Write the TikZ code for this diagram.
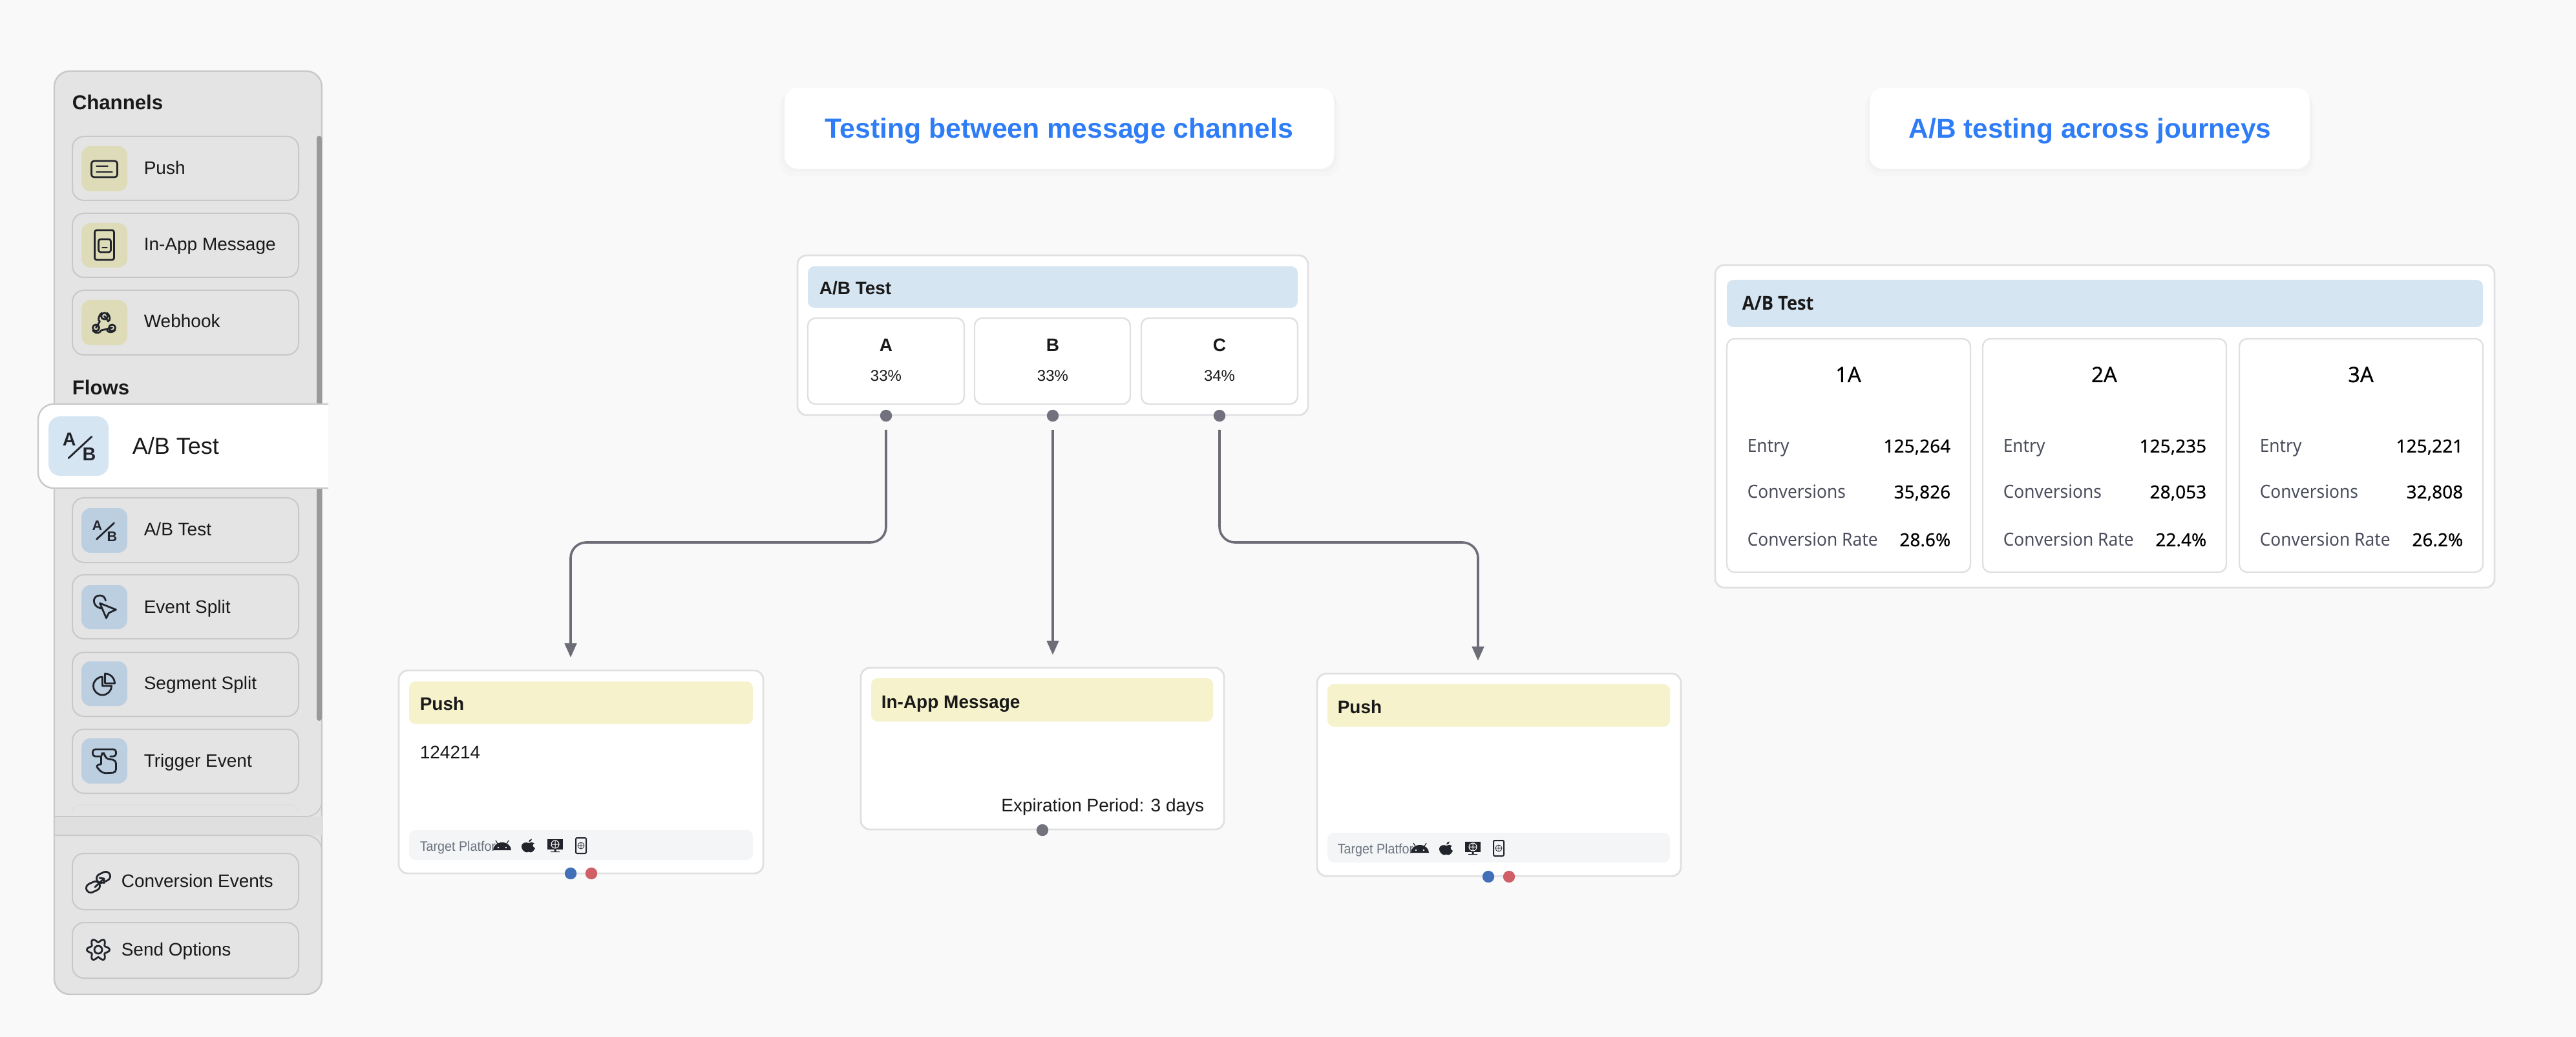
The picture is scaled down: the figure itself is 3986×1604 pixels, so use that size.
\documentclass[tikz,border=0pt]{standalone}
\usepackage{fontspec}
\setmainfont{Liberation Sans}
\newfontfamily\footfam[FakeStretch=.93]{Liberation Sans}
\newfontfamily\notolbl[FakeStretch=.94]{Noto Sans}
\newfontfamily\notoval[FakeBold=.25]{Noto Sans}
\newfontfamily\notomid[FakeBold=.4]{Noto Sans}
\newfontfamily\resulthead[FakeStretch=.92]{Open Sans}
\usetikzlibrary{arrows.meta,fit,shadows}
\newcommand{\sz}[1]{\fontsize{#1}{#1}\selectfont}
\definecolor{pagebg}{HTML}{F9F9FA}
\definecolor{panelgrey}{HTML}{E4E4E4}
\definecolor{panelline}{HTML}{C8C8C8}
\definecolor{chanicon}{HTML}{DEDCB8}
\definecolor{flowicon}{HTML}{BCCFE0}
\definecolor{abblue}{HTML}{D6E5F2}
\definecolor{msgyellow}{HTML}{F5F2CC}
\definecolor{footgrey}{HTML}{F3F5F6}
\definecolor{cardline}{HTML}{E0E0E3}
\definecolor{linkgrey}{HTML}{6D6D78}
\definecolor{portgrey}{HTML}{72727F}
\definecolor{portblue}{HTML}{4170B8}
\definecolor{portred}{HTML}{CF6068}
\definecolor{titleblue}{HTML}{2E7CF6}
\definecolor{inkdark}{HTML}{22242C}
\definecolor{rowgrey}{HTML}{4A4E5C}
\definecolor{footgreytext}{HTML}{6B7280}
\tikzset{
	boxbase/.style={inner sep=0pt, outer sep=0pt, rounded corners=#1},
	boxbase/.default=4pt,
	sidepanel/.style={boxbase=6pt, draw=panelline, fill=panelgrey, line width=.6pt},
	sidebtn/.style={boxbase=4.5pt, draw=panelline, fill=panelgrey, line width=.5pt},
	iconchan/.style={boxbase=3.5pt, fill=chanicon},
	iconflow/.style={boxbase=3.5pt, fill=flowicon},
	iconhi/.style={boxbase=4.5pt, fill=abblue},
	hibox/.style={boxbase=6pt, draw=panelline, fill=white, line width=.6pt},
	scrollbar/.style={boxbase=1pt, fill=black!40},
	titlecard/.style={boxbase=5pt, fill=white,
		drop shadow={shadow xshift=0pt, shadow yshift=-2.5pt, shadow scale=1.02, opacity=.025},
		drop shadow={shadow xshift=0pt, shadow yshift=-1pt, shadow scale=1.01, opacity=.03}},
	card/.style={boxbase=3.5pt, draw=cardline, fill=white, line width=.7pt},
	cell/.style={boxbase=3pt, draw=cardline, fill=white, line width=.6pt},
	abhead/.style={boxbase=2.5pt, fill=abblue},
	msghead/.style={boxbase=2.5pt, fill=msgyellow},
	foot/.style={boxbase=2.5pt, fill=footgrey},
	txt/.style={inner sep=0pt, anchor=base west, text=black!90, font=\sz{7pt}},
	txtc/.style={txt, anchor=base},
	txtr/.style={txt, anchor=base east},
	headtxt/.style={txt, font=\sz{7pt}\bfseries},
	footxt/.style={txt, text=footgreytext, font=\footfam\sz{5.3pt}},
	pct/.style={txtc, font=\sz{6pt}},
	rowtxt/.style={txt, text=rowgrey, font=\notolbl\sz{7pt}},
	rowval/.style={txtr, text=black, font=\notoval\sz{7pt}},
	port/.style={circle, inner sep=0pt, minimum size=4.6pt},
	link/.style={draw=linkgrey, line width=.9pt, rounded corners=6pt,
		shorten <=3pt, shorten >=5pt, -{Triangle[length=5.5pt,width=4.6pt]}},
	ico/.style={draw=inkdark, line width=.7pt, line join=round, line cap=round},
	pics/pushicon/.style={code={
		\draw[ico, rounded corners=1pt] (-20,-12) rectangle (20,13);
		\draw[ico] (-12,-4) -- (5,-4) (-12,5) -- (12,5);
	}},
	pics/inappicon/.style={code={
		\draw[ico, rounded corners=.8pt] (-15,-23) rectangle (15,23);
		\draw[ico, rounded corners=.8pt] (-9,-9) rectangle (10,11);
		\draw[ico] (-3,4) -- (4,4);
	}},
	pics/hookicon/.style={code={
		\draw[ico] (0,-10) circle (5) (-13,8) circle (5) (12,8) circle (5);
		\draw[ico] (-4,-15) .. controls (-10,-10) and (-10,-2) .. (-7,-2) -- (-13,8);
		\draw[ico] (4,-15) .. controls (10,-10) and (9,-3) .. (6,-2) -- (0,-10);
		\draw[ico] (-18,12) .. controls (-12,19) and (-6,15) .. (-5,12) -- (12,8);
		\draw[ico] (17,11) .. controls (12,17) and (6,15) .. (4,12);
	}},
	pics/abicon/.style={code={
		\node[txtc, font=\sz{5.4pt}\bfseries, text=inkdark, transform shape] (-a) at (-11,0) {A};
		\node[txtc, font=\sz{5.4pt}\bfseries, text=inkdark, transform shape] (-b) at (12,17) {B};
		\draw[ico] (-12,14) -- (15,-11);
	}},
	pics/eventicon/.style={code={
		\draw[ico] (-7,-6) -- (18,4) -- (7,9) -- (3,17) -- cycle;
		\draw[ico] (-5,2) .. controls (-19,0) and (-20,-18) .. (-7,-18) .. controls (-1,-18) and (1,-14) .. (2,-10);
	}},
	pics/pieicon/.style={code={
		\draw[ico] (-3,-11) arc[start angle=-90, end angle=-360, radius=14] -- (-3,3) -- cycle;
		\draw[ico] (1,-16) arc[start angle=-90, end angle=0, radius=15] -- (1,-1) -- cycle;
	}},
	pics/triggericon/.style={code={
		\draw[ico, rounded corners=1pt] (-7,-6) -- (-18,-6) -- (-18,-17) -- (18,-17) -- (18,-6) -- (9,-6);
		\draw[ico, rounded corners=1.2pt] (-5,6) -- (-5,-11) -- (1,-11) -- (1,-3) -- (18,0) -- (18,19) -- (-3,20) -- (-14,8) -- (-5,6);
	}},
	pics/linkicon/.style={code={
		\draw[ico, shift={(-8,8)}, rotate=25, rounded corners=1.8pt] (-11,-7) rectangle (11,7);
		\draw[ico, shift={(8,-7)}, rotate=25, rounded corners=1.8pt] (-11,-7) rectangle (11,7);
		\draw[ico] (-5,8) -- (9,-5) (2,-6) -- (9,-5) -- (9,2);
	}},
	pics/gearicon/.style={code={
		\draw[ico] plot[domain=0:360, samples=73] (\x:{14.5+3*cos(6*\x)}) -- cycle;
		\draw[ico] (0,0) circle (6);
	}},
	pics/androidicon/.style={code={
		\fill[inkdark] (-14,7) arc[start angle=180, end angle=360, x radius=14, y radius=12] -- cycle;
		\draw[inkdark, line width=.3pt] (-7,-3) -- (-10,-8) (7,-3) -- (10,-8);
		\fill[white] (-6,3) circle (1.3) (6,3) circle (1.3);
	}},
	pics/appleicon/.style={code={
		\fill[inkdark, yscale=.8] (0,-5) .. controls (-3,-7) and (-11,-7) .. (-11,2) .. controls (-11,8) and (-6,13) .. (-3,13) .. controls (-1,13) and (-1,12) .. (0,12) .. controls (1,12) and (1,13) .. (3,13) .. controls (6,13) and (9,8) .. (10,5) .. controls (5,2) and (6,-4) .. (9,-4) .. controls (6,-7) and (3,-7) .. (0,-5) -- cycle;
		\fill[inkdark, yscale=.8] (0,-7) .. controls (0,-10) and (2,-13) .. (5,-13) .. controls (5,-10) and (3,-7) .. (0,-7) -- cycle;
	}},
	pics/desktopicon/.style={code={
		\fill[inkdark] (-12,-10) rectangle (12,6);
		\draw[white, line width=.25pt] (0,-2) circle (6) (-6,-2) -- (6,-2) (0,-8) -- (0,4);
		\fill[inkdark] (-1.5,6) rectangle (1.5,9) (-7,9) rectangle (7,10);
	}},
	pics/phoneicon/.style={code={
		\draw[inkdark, line width=.5pt, rounded corners=.5pt] (-8,-12) rectangle (8,12);
		\draw[inkdark, line width=.2pt] (0,0) circle (5) (-5,0) -- (5,0) (0,-5) -- (0,5);
	}},
}

\begin{document}
\begin{tikzpicture}[x=.25pt,y=-.25pt]
\fill[pagebg] (0,0) rectangle (3986,1604);
\useasboundingbox (0,0) rectangle (3986,1604);

% palette on the left
\node[sidepanel, fit={(84,110) (498,1538)}] (palette) {};
\fill[black!2!panelgrey] (84.5,1263) rectangle (497.5,1292);
\draw[panelline, line width=.4pt, rounded corners=6pt] (84,1263) -- (498,1263) -- (498,1240);
\draw[panelline, line width=.4pt, rounded corners=6pt] (84,1292) -- (498,1292) -- (498,1316);
\draw[black!12, line width=.4pt, rounded corners=3pt] (112,1256) -- (112,1245) -- (462,1245) -- (462,1256);
\node[scrollbar, fit={(490,210) (498,1115)}] (scroll) {};

\node[txt, font=\sz{7.8pt}\bfseries] (channels) at (111,170) {Channels};
\node[sidebtn, fit={(112,211) (462,310)}] (btnPush) {};
\node[iconchan, fit={(126,226) (197,296)}] (icoPush) {};
\pic (pPush) at (161.5,261) {pushicon};
\node[txt] (lblPush) at (222,270) {Push};
\node[sidebtn, fit={(112,330) (462,429)}] (btnInApp) {};
\node[iconchan, fit={(126,345) (197,414)}] (icoInApp) {};
\pic (pInApp) at (161.5,379) {inappicon};
\node[txt] (lblInApp) at (222,388) {In-App Message};
\node[sidebtn, fit={(112,449) (462,549)}] (btnHook) {};
\node[iconchan, fit={(126,464) (197,534)}] (icoHook) {};
\pic (pHook) at (161.5,499) {hookicon};
\node[txt] (lblHook) at (222,507) {Webhook};

\node[txt, font=\sz{7.8pt}\bfseries] (flows) at (111,611) {Flows};
\begin{scope}
\clip (0,0) rectangle (508,1604);
\node[hibox, fit={(59,625) (540,755)}] (dragged) {};
\end{scope}
\node[iconhi, fit={(75,644) (168,736)}] (icoDragged) {};
\pic[scale=1.33, transform shape] (pDragged) at (122,690) {abicon};
\node[txt, font=\sz{9pt}] (lblDragged) at (204,702) {A/B Test};

\node[sidebtn, fit={(112,770) (462,870)}] (btnAb) {};
\node[iconflow, fit={(126,786) (197,855)}] (icoAb) {};
\pic (pAb) at (161.5,820) {abicon};
\node[txt] (lblAb) at (222,829) {A/B Test};
\node[sidebtn, fit={(112,889) (462,988)}] (btnEvent) {};
\node[iconflow, fit={(126,905) (197,973)}] (icoEvent) {};
\pic (pEvent) at (161.5,939) {eventicon};
\node[txt] (lblEvent) at (222,948) {Event Split};
\node[sidebtn, fit={(112,1009) (462,1108)}] (btnSegment) {};
\node[iconflow, fit={(126,1023) (197,1092)}] (icoSegment) {};
\pic (pSegment) at (161.5,1058) {pieicon};
\node[txt] (lblSegment) at (222,1066) {Segment Split};
\node[sidebtn, fit={(112,1128) (462,1227)}] (btnTrigger) {};
\node[iconflow, fit={(126,1142) (197,1212)}] (icoTrigger) {};
\pic (pTrigger) at (161.5,1176) {triggericon};
\node[txt] (lblTrigger) at (222,1186) {Trigger Event};

\node[sidebtn, fit={(112,1320) (462,1407)}] (btnConv) {};
\pic (pConv) at (152,1364) {linkicon};
\node[txt] (lblConv) at (187,1372) {Conversion Events};
\node[sidebtn, fit={(112,1427) (462,1513)}] (btnSend) {};
\pic (pSend) at (152,1469) {gearicon};
\node[txt] (lblSend) at (187,1478) {Send Options};

% titles
\node[titlecard, fit={(1214,136) (2064,261)}] (titleA) {};
\node[txtc, text=titleblue, font=\sz{10.7pt}\bfseries] (titleAText) at (1639,214) {Testing between message channels};
\node[titlecard, fit={(2893,136) (3574,261)}] (titleB) {};
\node[txtc, text=titleblue, font=\sz{10.6pt}\bfseries] (titleBText) at (3234,214) {A/B testing across journeys};

% split node
\node[card, fit={(1234,395) (2024,642)}] (split) {};
\node[abhead, fit={(1250,412) (2008,476)}] (splitHead) {};
\node[headtxt] (splitTitle) at (1267,456) {A/B Test};
\node[cell, fit={(1250,492) (1492,625)}] (cellA) {};
\node[cell, fit={(1508,492) (1749,625)}] (cellB) {};
\node[cell, fit={(1766,492) (2008,625)}] (cellC) {};
\node[txtc, font=\sz{7pt}\bfseries] (nameA) at (1371,544) {A};
\node[txtc, font=\sz{7pt}\bfseries] (nameB) at (1629,544) {B};
\node[txtc, font=\sz{7pt}\bfseries] (nameC) at (1887,544) {C};
\node[pct] (pctA) at (1371,590) {33\%};
\node[pct] (pctB) at (1629,590) {33\%};
\node[pct] (pctC) at (1887,590) {34\%};
\node[port, fill=portgrey] (dotA) at (1371,643) {};
\node[port, fill=portgrey] (dotB) at (1629,643) {};
\node[port, fill=portgrey] (dotC) at (1887,643) {};

% left push
\node[card, fit={(617,1037) (1181,1351)}] (pushL) {};
\node[msghead, fit={(633,1054) (1165,1120)}] (pushLHead) {};
\node[headtxt] (pushLTitle) at (649,1098) {Push};
\node[txt] (pushLBody) at (649,1173) {124214};
\node[foot, fit={(633,1284) (1165,1330)}] (pushLFoot) {};
\node[footxt] (pushLTarget) at (649,1316) {Target Platfor};
\pic (pL1) at (777,1308) {androidicon};
\pic (pL2) at (818,1308) {appleicon};
\pic (pL3) at (859,1308) {desktopicon};
\pic (pL4) at (899,1308) {phoneicon};
\node[port, fill=portblue] (pushLBlue) at (883,1351) {};
\node[port, fill=portred] (pushLRed) at (915,1351) {};

% in-app
\node[card, fit={(1332,1033) (1894,1283)}] (inapp) {};
\node[msghead, fit={(1348,1049) (1877,1116)}] (inappHead) {};
\node[headtxt] (inappTitle) at (1363,1095) {In-App Message};
\node[txtr] (inappExpiry) at (1864,1255) {Expiration Period: 3 days};
\node[port, fill=portgrey] (inappDot) at (1613,1284) {};

% right push
\node[card, fit={(2038,1042) (2601,1355)}] (pushR) {};
\node[msghead, fit={(2054,1058) (2584,1124)}] (pushRHead) {};
\node[headtxt] (pushRTitle) at (2069,1103) {Push};
\node[foot, fit={(2054,1288) (2584,1334)}] (pushRFoot) {};
\node[footxt] (pushRTarget) at (2069,1320) {Target Platfor};
\pic (pR1) at (2197,1312) {androidicon};
\pic (pR2) at (2238,1312) {appleicon};
\pic (pR3) at (2279,1312) {desktopicon};
\pic (pR4) at (2319,1312) {phoneicon};
\node[port, fill=portblue] (pushRBlue) at (2303,1356) {};
\node[port, fill=portred] (pushRRed) at (2335,1356) {};

% connectors
\coordinate (busY) at (0,839);
\coordinate (inL) at (pushLBlue |- pushL.north);
\coordinate (inM) at (dotB |- inapp.north);
\coordinate (inR) at (2287,1042);
\draw[link] (dotA) -- (dotA |- busY) -- (inL |- busY) -- (inL);
\draw[link] (dotB) -- (inM);
\draw[link] (dotC) -- (dotC |- busY) -- (inR |- busY) -- (inR);

% results panel
\node[card, fit={(2654,410) (3860,909)}] (results) {};
\node[abhead, fit={(2672,433) (3842,506)}] (resultsHead) {};
\node[txt, font=\resulthead\sz{7.4pt}\bfseries] (resultsTitle) at (2695,480) {A/B Test};
\foreach \c/\x/\name/\entry/\conv/\rate in {1/2672/1A/{125,264}/{35,826}/28.6\%,2/3068/2A/{125,235}/{28,053}/22.4\%,3/3465/3A/{125,221}/{32,808}/26.2\%}{
	\node[cell, fit={(\x,524) (\x+377,885)}] (res\c) {};
	\node[txtc, text=black, font=\notomid\sz{8.2pt}] (res\c name) at (\x+188,591) {\name};
	\node[rowtxt] (res\c e) at (\x+31,700) {Entry};
	\node[rowval] (res\c ev) at (\x+347,700) {\entry};
	\node[rowtxt] (res\c c) at (\x+31,771) {Conversions};
	\node[rowval] (res\c cv) at (\x+347,771) {\conv};
	\node[rowtxt] (res\c r) at (\x+31,845) {Conversion Rate};
	\node[rowval] (res\c rv) at (\x+347,845) {\rate};
}
\end{tikzpicture}
\end{document}
